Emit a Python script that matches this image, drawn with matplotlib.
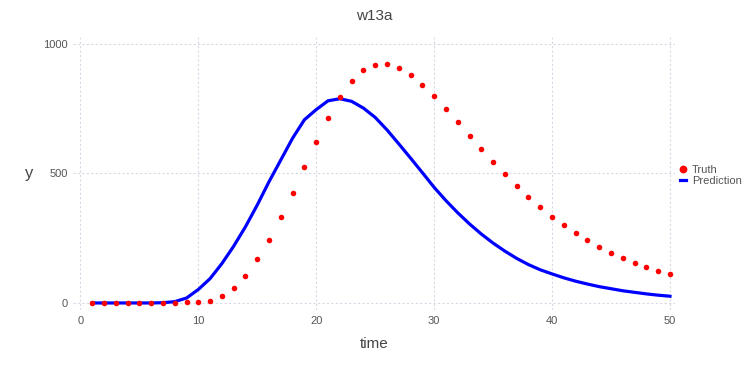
import matplotlib
matplotlib.use('Agg')
import matplotlib.pyplot as plt

plt.rcParams['font.family'] = ['Liberation Sans', 'DejaVu Sans']

time = list(range(1, 51))

# red dots
truth = [0, 0, 0, 0, 0, 0, 0, 0, 2, 3,
         9, 27, 58, 104, 168, 244, 330, 424, 523, 621,
         713, 794, 856, 897, 919, 921, 906, 879, 842, 798,
         749, 698, 645, 595, 544, 497, 452, 410, 371, 333,
         301, 269, 242, 216, 194, 174, 156, 139, 125, 111]

# blue line
prediction = [0, 0, 0, 0, 0, 0, 1, 5, 19, 52,
              94, 152, 219, 294, 378, 468, 552, 636, 707, 746,
              780, 788, 778, 752, 716, 668, 614, 559, 503, 446,
              395, 348, 305, 266, 231, 200, 172, 148, 128, 112,
              97, 84, 73, 63, 55, 47, 41, 35, 30, 26]

fig = plt.figure(figsize=(7.56, 3.78), dpi=100)
ax = fig.add_axes([0.0962, 0.180, 0.797, 0.722])

grid_col = '#d8d8e6'
txt_col = '#555555'

ax.plot(time, truth, 'o', color='#ff0000', markersize=4.0, markeredgewidth=0,
        label='Truth', zorder=3)
ax.plot(time, prediction, color='#0000ff', linewidth=2.3, label='Prediction', zorder=2)

ax.set_xlim(-0.65, 50.45)
ax.set_ylim(-27, 1026)
ax.set_xticks([0, 10, 20, 30, 40, 50])
ax.set_yticks([0, 500, 1000])
ax.grid(True, color=grid_col, linestyle=(0, (2, 2)), linewidth=0.8)
ax.set_axisbelow(True)
for s in ax.spines.values():
    s.set_visible(False)
ax.tick_params(length=0, labelsize=8, colors=txt_col)
ax.tick_params(axis='x', pad=4.5)
ax.tick_params(axis='y', pad=3.5)

ax.set_title('w13a', fontsize=11, color='#444444', pad=12)
ax.set_xlabel('time', fontsize=11, color='#444444', labelpad=8)
ax.set_ylabel('y', fontsize=12, color='#444444', rotation=0, va='center')
ax.yaxis.set_label_coords(-0.072, 0.5)

leg = ax.legend(loc='upper left', bbox_to_anchor=(0.8995, 0.5635),
                bbox_transform=fig.transFigure, frameon=False,
                fontsize=8, handlelength=0.55, handletextpad=0.55,
                labelspacing=0.05, borderaxespad=0, borderpad=0,
                markerscale=1.4)
for t in leg.get_texts():
    t.set_color(txt_col)

fig.savefig('out.png', dpi=100)
